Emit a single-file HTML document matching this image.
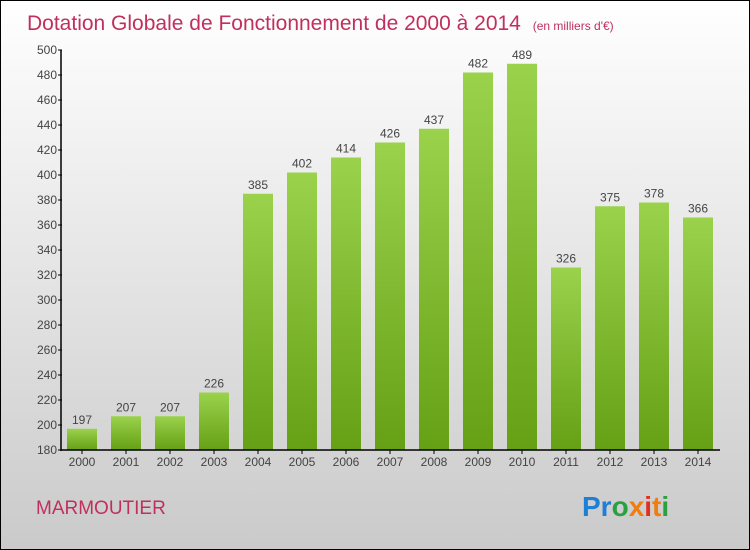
<!DOCTYPE html>
<html><head><meta charset="utf-8"><style>
body{margin:0}
svg{display:block;font-family:"Liberation Sans",sans-serif}
</style></head><body>
<svg width="750" height="550" viewBox="0 0 750 550">
<defs>
<linearGradient id="bg" x1="0" y1="0" x2="0" y2="1"><stop offset="0" stop-color="#ffffff"/><stop offset="1" stop-color="#cacaca"/></linearGradient>
<linearGradient id="bar" x1="0" y1="0" x2="0" y2="1"><stop offset="0" stop-color="#9ad24c"/><stop offset="1" stop-color="#65a015"/></linearGradient>
</defs>
<rect x="0.5" y="0.5" width="749" height="549" fill="url(#bg)" stroke="#000"/>
<text x="27" y="30" font-size="21" fill="#c0305e">Dotation Globale de Fonctionnement de 2000 à 2014 <tspan font-size="12" dx="6">(en milliers d'€)</tspan></text>
<text x="36" y="514" font-size="19" fill="#c0305e">MARMOUTIER</text>
<text x="582" y="516" font-size="28" font-weight="bold"><tspan fill="#1e7fd6">Pr</tspan><tspan fill="#2aa040">o</tspan><tspan fill="#f07d10">x</tspan><tspan fill="#e03020">i</tspan><tspan fill="#f07d10">t</tspan><tspan fill="#2aa040">i</tspan></text>
<g id="plot"></g>
</svg>
<script>
const categories=["2000","2001","2002","2003","2004","2005","2006","2007","2008","2009","2010","2011","2012","2013","2014"];
const values=[197,207,207,226,385,402,414,426,437,482,489,326,375,378,366];
const yTicks=[180,200,220,240,260,280,300,320,340,360,380,400,420,440,460,480,500];
const NS="http://www.w3.org/2000/svg";
const g=document.getElementById('plot');
const y=v=>450-(v-180)*1.25;
const x=i=>82+i*44;
function mk(t,a){const e=document.createElementNS(NS,t);for(const k in a)e.setAttribute(k,a[k]);g.appendChild(e);return e;}
values.forEach((v,i)=>{
 const r=mk('rect',{x:x(i)-15,y:y(v),width:30,height:450-y(v),fill:'url(#bar)'});
 
 
 const t=mk('text',{x:x(i),y:y(v)-5,'text-anchor':'middle','font-size':12,fill:'#444'});
 t.textContent=v;
 
 
 const c=mk('text',{x:x(i),y:466,'text-anchor':'middle','font-size':12,fill:'#444'});
 c.textContent=categories[i];
 
 
 const tk=mk('line',{x1:x(i),x2:x(i),y1:450,y2:454,stroke:'#000'});
 
 
});
yTicks.forEach(v=>{
 const l=mk('line',{x1:58,x2:62,y1:y(v),y2:y(v),stroke:'#000'});
 
 
 const t=mk('text',{x:57,y:y(v)+4,'text-anchor':'end','font-size':12,fill:'#444'});
 t.textContent=v;
 
 
});
const ya=mk('line',{x1:61,x2:61,y1:50,y2:451,stroke:'#000','stroke-width':1.5});


const xa=mk('line',{x1:61,x2:720,y1:450,y2:450,stroke:'#000','stroke-width':1.5});


</script>
</body></html>
